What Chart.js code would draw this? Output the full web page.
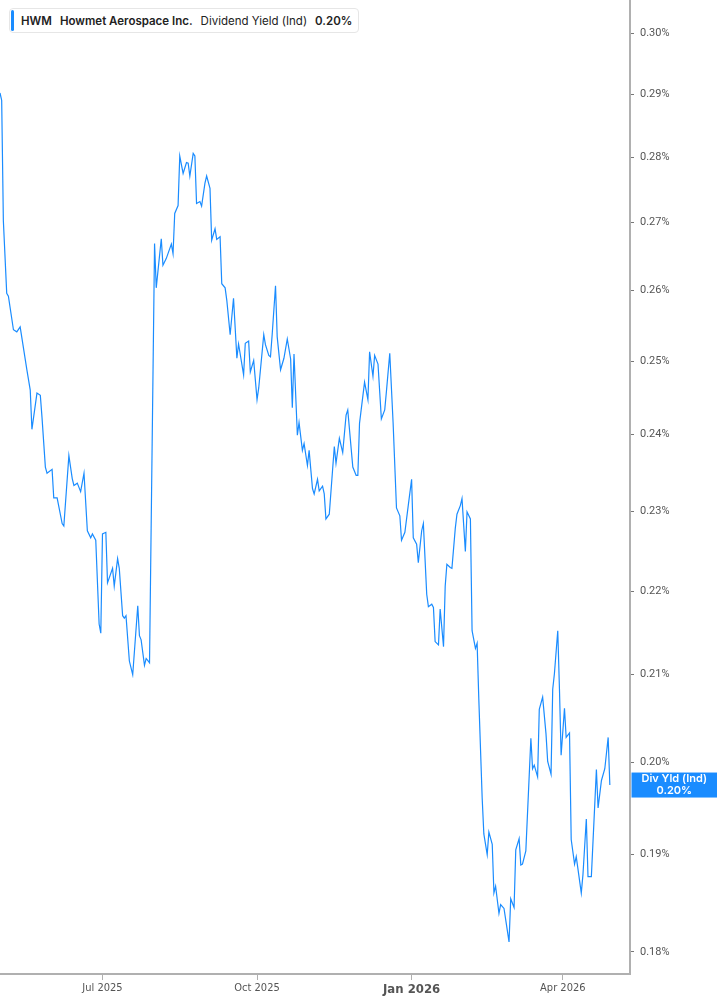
<!DOCTYPE html>
<html>
<head>
<meta charset="utf-8">
<title>HWM Dividend Yield</title>
<script src="https://cdn.jsdelivr.net/npm/chart.js@4.4.1/dist/chart.umd.min.js"></script>
<style>
  html, body { margin: 0; padding: 0; background: #fff; }
  #wrap { position: relative; width: 717px; height: 1005px; }
  #chart { position: absolute; left: 0; top: 0; }
  .legend-box {
    position: absolute; left: 9px; top: 8px; height: 25px;
    padding: 0 6px 0 11px; background: #fff;
    border: 1px solid #e6e6e6; border-radius: 4px;
    font-family: Inter, "Noto Sans", sans-serif; font-size: 11.5px; color: #222;
    line-height: 24px; white-space: nowrap; box-sizing: border-box;
  }
  .legend-box::before {
    content: ''; position: absolute; left: 1px; top: 1px; bottom: 1px; width: 3px;
    background: #1a8cff; border-radius: 2px;
  }
  .legend-box b { font-weight: 600; }
  .legend-box span { margin-right: 8px; }
</style>
</head>
<body>
<div id="wrap">
  <canvas id="chart" width="717" height="1005"></canvas>
  <div class="legend-box">
    <span><b>HWM</b></span><span><b>Howmet Aerospace Inc.</b></span><span>Dividend Yield (Ind)</span><b id="lastVal"></b>
  </div>
</div>
<script>
// Calendar days since 2025-05-01
const days = [
  0, 1, 2, 4, 5, 8, 10, 12, 16, 18, 19, 22, 24, 25, 27, 28, 31, 32, 34, 37,
  38, 41, 43, 44, 46, 48, 50, 52, 54, 55, 57, 59, 60, 61, 63, 64, 67, 68, 70, 71,
  73, 74, 75, 77, 79, 82, 83, 84, 86, 87, 89, 92, 93, 96, 97, 99, 102, 103, 104, 106,
  107, 109, 111, 112, 113, 115, 116, 117, 119, 120, 122, 123, 125, 126, 128, 129, 131, 132, 134, 135,
  137, 139, 141, 142, 145, 146, 148, 149, 151, 153, 154, 157, 158, 160, 161, 162, 164, 165, 167, 169,
  171, 173, 174, 175, 177, 178, 180, 181, 183, 184, 186, 187, 189, 190, 192, 193, 194, 196, 199, 200,
  202, 204, 206, 207, 210, 212, 213, 214, 217, 219, 220, 222, 223, 225, 227, 229, 230, 232, 234, 236,
  238, 239, 241, 243, 245, 246, 248, 249, 251, 252, 254, 255, 257, 258, 259, 261, 262, 264, 265, 266,
  268, 269, 271, 272, 274, 275, 277, 278, 280, 281, 283, 284, 285, 287, 288, 290, 291, 293, 294, 295,
  297, 298, 300, 303, 304, 306, 307, 309, 310, 311, 313, 316, 317, 318, 320, 321, 323, 325, 326, 328,
  329, 330, 332, 333, 334, 336, 337, 339, 340, 342, 343, 346, 347, 349, 350, 352, 355, 356, 358, 360,
  362, 363
];

// Dividend yield (Ind), in percent
const yields = [
  0.2902, 0.2890, 0.2703, 0.2596, 0.2592, 0.2544, 0.2541, 0.2548, 0.2488, 0.2460,
  0.2407, 0.2456, 0.2453, 0.2423, 0.2357, 0.2349, 0.2354, 0.2317, 0.2317, 0.2284,
  0.2281, 0.2372, 0.2342, 0.2333, 0.2336, 0.2325, 0.2349, 0.2275, 0.2266, 0.2271,
  0.2263, 0.2160, 0.2149, 0.2271, 0.2273, 0.2210, 0.2228, 0.2206, 0.2240, 0.2228,
  0.2170, 0.2167, 0.2170, 0.2116, 0.2100, 0.2182, 0.2146, 0.2141, 0.2111, 0.2119,
  0.2114, 0.2669, 0.2604, 0.2676, 0.2637, 0.2647, 0.2668, 0.2654, 0.2714, 0.2726,
  0.2802, 0.2775, 0.2792, 0.2791, 0.2771, 0.2806, 0.2802, 0.2729, 0.2732, 0.2725,
  0.2760, 0.2771, 0.2752, 0.2674, 0.2691, 0.2675, 0.2679, 0.2610, 0.2604, 0.2586,
  0.2537, 0.2589, 0.2504, 0.2524, 0.2481, 0.2525, 0.2528, 0.2485, 0.2501, 0.2447,
  0.2463, 0.2537, 0.2523, 0.2508, 0.2506, 0.2537, 0.2607, 0.2534, 0.2488, 0.2504,
  0.2531, 0.2503, 0.2436, 0.2510, 0.2399, 0.2416, 0.2379, 0.2388, 0.2359, 0.2379,
  0.2329, 0.2322, 0.2341, 0.2326, 0.2332, 0.2322, 0.2290, 0.2296, 0.2384, 0.2362,
  0.2395, 0.2376, 0.2426, 0.2433, 0.2357, 0.2346, 0.2346, 0.2415, 0.2471, 0.2447,
  0.2513, 0.2479, 0.2508, 0.2496, 0.2421, 0.2433, 0.2458, 0.2511, 0.2415, 0.2304,
  0.2294, 0.2263, 0.2273, 0.2307, 0.2341, 0.2266, 0.2258, 0.2235, 0.2275, 0.2284,
  0.2196, 0.2181, 0.2184, 0.2180, 0.2139, 0.2135, 0.2178, 0.2133, 0.2206, 0.2233,
  0.2229, 0.2228, 0.2278, 0.2296, 0.2307, 0.2316, 0.2249, 0.2299, 0.2290, 0.2152,
  0.2131, 0.2137, 0.2072, 0.1961, 0.1922, 0.1900, 0.1924, 0.1911, 0.1860, 0.1867,
  0.1839, 0.1848, 0.1844, 0.1810, 0.1854, 0.1845, 0.1905, 0.1917, 0.1889, 0.1890,
  0.1904, 0.2027, 0.1993, 0.1997, 0.1984, 0.2060, 0.2074, 0.2032, 0.2001, 0.1987,
  0.2083, 0.2101, 0.2152, 0.2084, 0.2008, 0.2061, 0.2028, 0.2033, 0.1916, 0.1890,
  0.1898, 0.1860, 0.1879, 0.1938, 0.1877, 0.1877, 0.1992, 0.1950, 0.1980, 0.1993,
  0.2028, 0.1975
];

// X ticks (days since 2025-05-01) and their labels
const xTickDays = [61, 153, 245, 335];
const xTickLabels = ['Jul 2025', 'Oct 2025', 'Jan 2026', 'Apr 2026'];
const yTicks = [0.18, 0.19, 0.20, 0.21, 0.22, 0.23, 0.24, 0.25, 0.26, 0.27, 0.28, 0.29, 0.30];

const lineBlue = '#1a8cff';
const axisGray = '#b0b0b0';
const lastYield = yields[yields.length - 1];

document.getElementById('lastVal').textContent = lastYield.toFixed(2) + '%';

// ========== Last value tag on the right axis ==========
const lastValueTag = {
  id: 'lastValueTag',
  afterDraw(chart) {
    const { ctx, chartArea } = chart;
    const y = chart.scales.y.getPixelForValue(lastYield);
    const left = chartArea.right + 1.5;
    const w = chart.width - left;
    ctx.save();
    ctx.fillStyle = lineBlue;
    ctx.fillRect(left, y - 12.5, w, 25);
    ctx.fillStyle = '#fff';
    ctx.font = '600 11px Inter, "Noto Sans", sans-serif';
    ctx.textAlign = 'center';
    ctx.textBaseline = 'middle';
    ctx.fillText('Div Yld (Ind)', left + w / 2, y - 6);
    ctx.fillText(lastYield.toFixed(2) + '%', left + w / 2, y + 6);
    ctx.restore();
  }
};

new Chart(document.getElementById('chart'), {
  type: 'line',
  data: {
    datasets: [{
      data: days.map((d, i) => ({ x: d, y: yields[i] })),
      borderColor: lineBlue,
      borderWidth: 1.2,
      pointRadius: 0,
      tension: 0,
      fill: false
    }]
  },
  options: {
    responsive: false,
    animation: false,
    layout: { padding: 0 },
    plugins: {
      legend: { display: false },
      tooltip: { enabled: false }
    },
    scales: {
      x: {
        type: 'linear',
        min: 0,
        max: 375,
        border: { display: true, color: axisGray, width: 2 },
        grid: { drawOnChartArea: false, drawTicks: true, tickLength: 6, color: axisGray },
        ticks: {
          padding: 2,
          color: '#555',
          maxRotation: 0,
          font: function(c) {
            const bold = c.tick && c.tick.value === 245;
            return {
              family: '"Liberation Sans Narrow", "DejaVu Sans Condensed", Roboto, sans-serif',
              size: bold ? 13 : 11,
              weight: bold ? 'bold' : 'normal'
            };
          },
          callback: function(v) {
            const i = xTickDays.indexOf(v);
            return i >= 0 ? xTickLabels[i] : '';
          }
        },
        afterBuildTicks: function(scale) {
          scale.ticks = xTickDays.map(v => ({ value: v }));
        },
        afterFit: function(scale) {
          scale.height = 31;
          scale.paddingLeft = 0;
          scale.paddingRight = 0;
        }
      },
      y: {
        type: 'logarithmic',
        position: 'right',
        min: 0.1778,
        max: 0.3056,
        border: { display: true, color: axisGray, width: 2 },
        grid: { drawOnChartArea: false, drawTicks: true, tickLength: 4, color: '#777' },
        ticks: {
          padding: 6,
          color: '#555',
          font: { family: 'Roboto, "Noto Sans", sans-serif', size: 11 },
          callback: function(v) { return Number(v).toFixed(2) + '%'; }
        },
        afterBuildTicks: function(scale) {
          scale.ticks = yTicks.map(v => ({ value: v }));
        },
        afterFit: function(scale) {
          scale.width = 87;
          scale.paddingTop = 0;
          scale.paddingBottom = 0;
        }
      }
    }
  },
  plugins: [lastValueTag]
});
</script>
</body>
</html>
